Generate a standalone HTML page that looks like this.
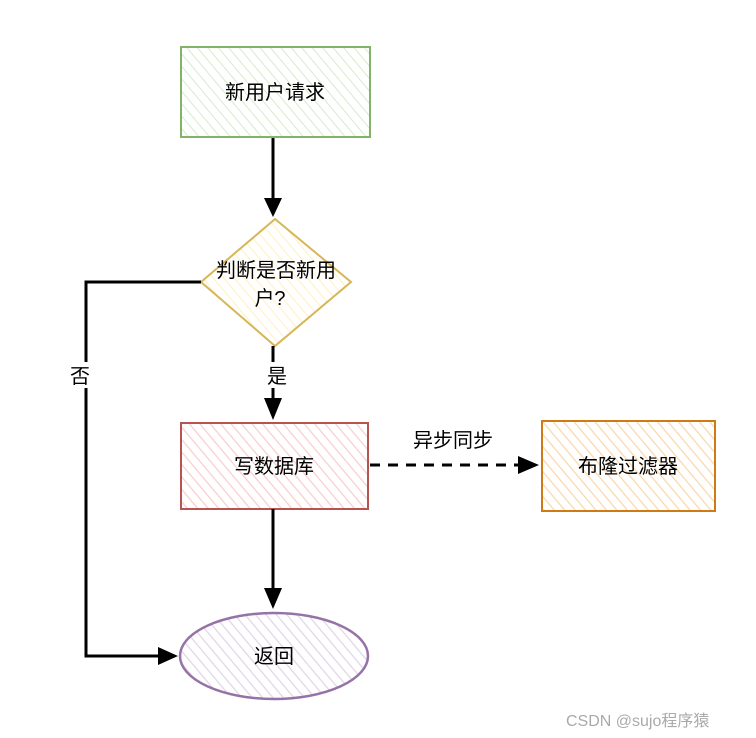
<!DOCTYPE html>
<html><head><meta charset="utf-8"><style>body{margin:0;background:#fff}svg{display:block}text{font-family:"Liberation Sans","Noto Sans CJK SC",sans-serif;font-size:20px;fill:#000}</style></head><body>
<svg width="756" height="738" viewBox="0 0 756 738" xmlns="http://www.w3.org/2000/svg">
<defs>
<pattern id="h1" width="8" height="8" patternUnits="userSpaceOnUse" patternTransform="rotate(-40)"><line x1="0" y1="0" x2="0" y2="8" stroke="#b9e0a5" stroke-width="2" opacity=".6"/></pattern>
<pattern id="h2" width="8" height="8" patternUnits="userSpaceOnUse" patternTransform="rotate(-40)"><line x1="0" y1="0" x2="0" y2="8" stroke="#fff2cc" stroke-width="2.5"/></pattern>
<pattern id="h3" width="8" height="8" patternUnits="userSpaceOnUse" patternTransform="rotate(-40)"><line x1="0" y1="0" x2="0" y2="8" stroke="#f8cecc" stroke-width="2.5"/></pattern>
<pattern id="h4" width="8" height="8" patternUnits="userSpaceOnUse" patternTransform="rotate(-40)"><line x1="0" y1="0" x2="0" y2="8" stroke="#fad7ac" stroke-width="2.5"/></pattern>
<pattern id="h5" width="8" height="8" patternUnits="userSpaceOnUse" patternTransform="rotate(-40)"><line x1="0" y1="0" x2="0" y2="8" stroke="#e1d5e7" stroke-width="2.5"/></pattern>
</defs>
<rect x="181" y="47" width="189" height="90" fill="url(#h1)" stroke="#82b366" stroke-width="2"/>
<text x="275" y="99" text-anchor="middle">新用户请求</text>
<polygon points="275,219 351,282 275,346 201,282" fill="url(#h2)" stroke="#d6b656" stroke-width="2"/>
<text x="276" y="277" text-anchor="middle">判断是否新用</text>
<text x="270" y="305" text-anchor="middle">户?</text>
<rect x="181" y="423" width="187" height="86" fill="url(#h3)" stroke="#b85450" stroke-width="2"/>
<text x="274" y="473" text-anchor="middle">写数据库</text>
<rect x="542" y="421" width="173" height="90" fill="url(#h4)" stroke="#d07a16" stroke-width="2"/>
<text x="628" y="473" text-anchor="middle">布隆过滤器</text>
<ellipse cx="274" cy="656" rx="94" ry="43" fill="url(#h5)" stroke="#9673a6" stroke-width="2.5"/>
<text x="274" y="663" text-anchor="middle">返回</text>
<g stroke="#000" stroke-width="3" fill="none">
<line x1="273" y1="138" x2="273" y2="200"/>
<line x1="273" y1="346" x2="273" y2="400"/>
<line x1="273" y1="509" x2="273" y2="590"/>
<polyline points="201,282 86,282 86,656 160,656"/>
<line x1="370" y1="465" x2="520" y2="465" stroke-dasharray="10,8"/>
</g>
<g fill="#000">
<polygon points="264,198 282,198 273,217"/>
<polygon points="264,398 282,398 273,420"/>
<polygon points="264,588 282,588 273,609"/>
<polygon points="158,647 158,665 178,656"/>
<polygon points="518,456 518,474 539,465"/>
</g>
<rect x="66" y="362" width="28" height="26" fill="#fff"/>
<text x="80" y="383" text-anchor="middle">否</text>
<rect x="263" y="362" width="28" height="26" fill="#fff"/>
<text x="277" y="383" text-anchor="middle">是</text>
<text x="453" y="447" text-anchor="middle">异步同步</text>
<text x="566" y="726" style="font-size:16px;fill:#aaa">CSDN @sujo程序猿</text>
</svg>
</body></html>
